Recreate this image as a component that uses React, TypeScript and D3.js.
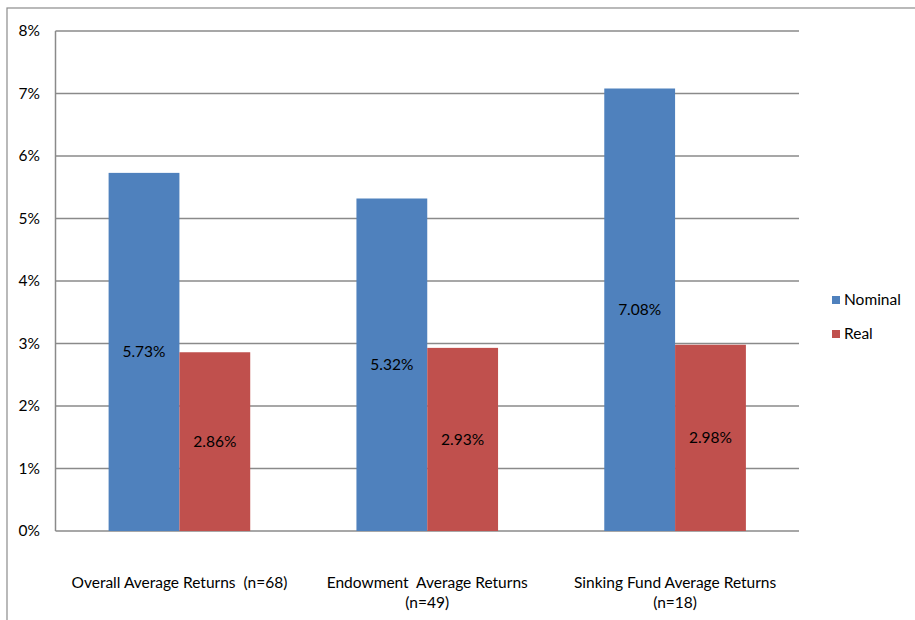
import * as d3 from 'd3';

const categories = [
  ['Overall Average Returns  (n=68)'],
  ['Endowment  Average Returns', '(n=49)'],
  ['Sinking Fund Average Returns', '(n=18)'],
];
const seriesNames = ['Nominal', 'Real'];
const nominal = [5.73, 5.32, 7.08];
const real = [2.86, 2.93, 2.98];
const yTicks = [0, 1, 2, 3, 4, 5, 6, 7, 8];
const colors = ['#4f81bd', '#c0504d'];

export default function App() {
  const W = 915;
  const H = 620;
  const left = 55.5;
  const right = 799;
  const top = 31;
  const bottom = 531;
  const font = 'Lato, "Open Sans", sans-serif';
  const fs = 15.5;

  const x = d3.scaleBand<number>().domain([0, 1, 2]).range([left, right]);
  const inner = d3
    .scaleBand<number>()
    .domain([0, 1])
    .range([0, x.bandwidth()])
    .paddingOuter(0.75);
  const y = d3.scaleLinear().domain([0, 8]).range([bottom, top]);
  const series = [nominal, real];

  return (
    <svg
      width={W}
      height={H}
      style={{ position: 'absolute', left: 0, top: 0, background: '#fff' }}
      fontFamily={font}
    >
      <rect x={7} y={8} width={W} height={H} fill="#fff" stroke="#8c8c8c" strokeWidth={1.2} />
      {yTicks.map((t) => (
        <g key={t}>
          <line x1={left} x2={right} y1={y(t)} y2={y(t)} stroke="#8a8a8a" strokeWidth={1.5} />
          <text x={40} y={y(t)} dy="0.35em" textAnchor="end" fontSize={fs} fill="#000">
            {t}%
          </text>
        </g>
      ))}
      <line x1={left} x2={left} y1={top} y2={bottom} stroke="#8a8a8a" strokeWidth={1.5} />
      {series.map((vals, si) =>
        vals.map((v, ci) => {
          const bx = x(ci)! + inner(si)!;
          const bw = inner.bandwidth();
          return (
            <g key={`${si}-${ci}`}>
              <rect x={bx} y={y(v)} width={bw} height={y(0) - y(v)} fill={colors[si]} />
              <text
                x={bx + bw / 2}
                y={(y(v) + y(0)) / 2}
                dy="0.35em"
                textAnchor="middle"
                fontSize={fs}
                fill="#000"
              >
                {v.toFixed(2)}%
              </text>
            </g>
          );
        })
      )}
      {categories.map((lines, ci) => (
        <text
          key={ci}
          x={x(ci)! + x.bandwidth() / 2}
          y={583}
          textAnchor="middle"
          fontSize={fs}
          fill="#000"
        >
          {lines.map((l, li) => (
            <tspan key={li} x={x(ci)! + x.bandwidth() / 2} dy={li === 0 ? '0.35em' : 20} xmlSpace="preserve">
              {l}
            </tspan>
          ))}
        </text>
      ))}
      {seriesNames.map((n, i) => (
        <g key={n} transform={`translate(832,${300 + i * 34})`}>
          <rect x={0} y={-4} width={8} height={8} fill={colors[i]} />
          <text x={12} y={0} dy="0.35em" fontSize={fs} fill="#000">
            {n}
          </text>
        </g>
      ))}
    </svg>
  );
}
